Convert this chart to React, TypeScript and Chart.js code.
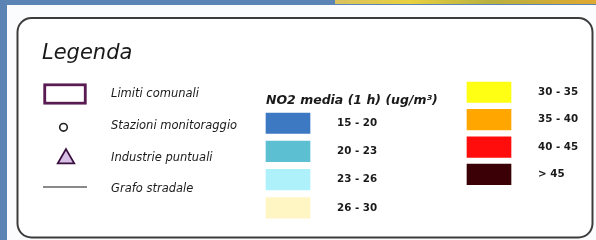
import React, { useEffect, useRef } from "react";
import { Chart, registerables } from "chart.js";

Chart.register(...registerables);

const legendTitle = "Legenda";
const layerLabels = ["Limiti comunali", "Stazioni monitoraggio", "Industrie puntuali", "Grafo stradale"];
const scaleTitle = "NO2 media (1 h) (ug/m³)";
const lowClasses = ["15 - 20", "20 - 23", "23 - 26", "26 - 30"];
const lowColors = ["#3d78c3", "#5cbfd2", "#aef1fa", "#fff6c4"];
const highClasses = ["30 - 35", "35 - 40", "40 - 45", "> 45"];
const highColors = ["#ffff14", "#ffa600", "#ff0c0c", "#3a0006"];

// layout (pixel units of the hidden scales)
const W = 596;
const H = 240;
const leftSymX = 65;
const leftTextX = 111;
const leftRowY0 = 94;
const leftRowStep = 31.3;
const lowSwX = 288;
const lowTextX = 337;
const lowY0 = 113;
const lowStep = 28.2;
const highSwX = 489;
const highTextX = 538;
const highY0 = 82;
const highStep = 27.4;
const swH = 20.5;
const FONT = "'DejaVu Sans', Verdana, sans-serif";

export default function App() {
  const ref = useRef<HTMLCanvasElement | null>(null);

  useEffect(() => {
    if (!ref.current) return;

    const swatch = (x: number, top: number, color: string) => ({
      type: "bar" as const,
      data: [{ x, y: [top, top + swH] }],
      backgroundColor: color,
      borderWidth: 0,
      barThickness: 44,
      grouped: false,
    });

    const datasets: any[] = [];
    lowColors.forEach((c, i) => datasets.push(swatch(lowSwX, lowY0 + i * lowStep, c)));
    highColors.forEach((c, i) => datasets.push(swatch(highSwX, highY0 + i * highStep, c)));

    // Limiti comunali: outlined rectangle
    datasets.push({
      type: "bar",
      data: [{ x: leftSymX, y: [leftRowY0 - 10.5, leftRowY0 + 10.5] }],
      backgroundColor: "#ffffff",
      borderColor: "#5a1a52",
      borderWidth: 3,
      borderSkipped: false,
      barThickness: 43,
      grouped: false,
    });
    // Stazioni monitoraggio: circle
    datasets.push({
      type: "scatter",
      data: [{ x: 63.5, y: leftRowY0 + leftRowStep + 2 }],
      pointStyle: "circle",
      pointRadius: 3.8,
      pointBackgroundColor: "#ffffff",
      pointBorderColor: "#222222",
      pointBorderWidth: 1.6,
    });
    // Industrie puntuali: triangle
    datasets.push({
      type: "scatter",
      data: [{ x: 66, y: leftRowY0 + 2 * leftRowStep + 2 }],
      pointStyle: "triangle",
      pointRadius: 9.5,
      pointBackgroundColor: "#d8bfe6",
      pointBorderColor: "#3a1040",
      pointBorderWidth: 1.8,
    });
    // Grafo stradale: line
    datasets.push({
      type: "line",
      data: [
        { x: 43, y: leftRowY0 + 3 * leftRowStep - 1 },
        { x: 87, y: leftRowY0 + 3 * leftRowStep - 1 },
      ],
      borderColor: "#8a8a8a",
      borderWidth: 2,
      pointRadius: 0,
    });

    const backgroundPlugin = {
      id: "bg",
      beforeDraw(chart: any) {
        const ctx = chart.ctx;
        const sx = chart.scales.x;
        const sy = chart.scales.y;
        const px = (v: number) => sx.getPixelForValue(v);
        const py = (v: number) => sy.getPixelForValue(v);
        ctx.save();
        ctx.fillStyle = "#fafcfe";
        ctx.fillRect(0, 0, W, H);
        // blue page edges
        ctx.fillStyle = "#5b83b3";
        ctx.fillRect(px(0), py(0), px(7) - px(0), py(240) - py(0));
        ctx.fillRect(px(0), py(0), px(596) - px(0), py(5) - py(0));
        // map fragment at top
        const g = ctx.createLinearGradient(px(330), 0, px(596), 0);
        g.addColorStop(0, "#d8c060");
        g.addColorStop(0.3, "#e8d040");
        g.addColorStop(0.6, "#b8b040");
        g.addColorStop(1, "#e0a830");
        ctx.fillStyle = g;
        ctx.fillRect(px(335), py(0), px(596) - px(335), py(4) - py(0));
        // rounded frame
        const x0 = px(17.5), y0 = py(18), x1 = px(592.5), y1 = py(237.5), r = 14;
        ctx.beginPath();
        ctx.moveTo(x0 + r, y0);
        ctx.lineTo(x1 - r, y0);
        ctx.arcTo(x1, y0, x1, y0 + r, r);
        ctx.lineTo(x1, y1 - r);
        ctx.arcTo(x1, y1, x1 - r, y1, r);
        ctx.lineTo(x0 + r, y1);
        ctx.arcTo(x0, y1, x0, y1 - r, r);
        ctx.lineTo(x0, y0 + r);
        ctx.arcTo(x0, y0, x0 + r, y0, r);
        ctx.closePath();
        ctx.fillStyle = "#ffffff";
        ctx.fill();
        ctx.lineWidth = 2;
        ctx.strokeStyle = "#3c3c3c";
        ctx.stroke();
        ctx.restore();
      },
    };

    const textPlugin = {
      id: "texts",
      afterDatasetsDraw(chart: any) {
        const ctx = chart.ctx;
        const sx = chart.scales.x;
        const sy = chart.scales.y;
        const px = (v: number) => sx.getPixelForValue(v);
        const py = (v: number) => sy.getPixelForValue(v);
        ctx.save();
        ctx.fillStyle = "#1a1a1a";
        ctx.textBaseline = "middle";
        ctx.textAlign = "left";
        ctx.font = `italic 21px ${FONT}`;
        ctx.fillText(legendTitle, px(42), py(54));
        ctx.font = `italic 11.5px ${FONT}`;
        layerLabels.forEach((t, i) => {
          ctx.fillText(t, px(leftTextX), py(leftRowY0 + i * leftRowStep + (i === 0 ? 0 : 1)));
        });
        ctx.font = `bold italic 12.5px ${FONT}`;
        ctx.fillText(scaleTitle, px(266), py(101));
        ctx.font = `bold 10.3px ${FONT}`;
        lowClasses.forEach((t, i) => {
          ctx.fillText(t, px(lowTextX), py(lowY0 + i * lowStep + swH / 2));
        });
        highClasses.forEach((t, i) => {
          ctx.fillText(t, px(highTextX), py(highY0 + i * highStep + swH / 2));
        });
        ctx.restore();
      },
    };

    const chart = new Chart(ref.current, {
      type: "bar",
      data: { datasets },
      options: {
        animation: false,
        responsive: false,
        layout: { padding: 0, autoPadding: false },
        plugins: { legend: { display: false }, tooltip: { enabled: false } },
        scales: {
          x: { type: "linear", min: 0, max: W, display: false, offset: false },
          y: { type: "linear", min: 0, max: H, reverse: true, display: false },
        },
      },
      plugins: [backgroundPlugin, textPlugin],
    } as any);

    return () => chart.destroy();
  }, []);

  return (
    <div style={{ position: "absolute", left: 0, top: 0, width: W, height: H }}>
      <canvas ref={ref} width={W} height={H} style={{ display: "block" }} />
    </div>
  );
}
